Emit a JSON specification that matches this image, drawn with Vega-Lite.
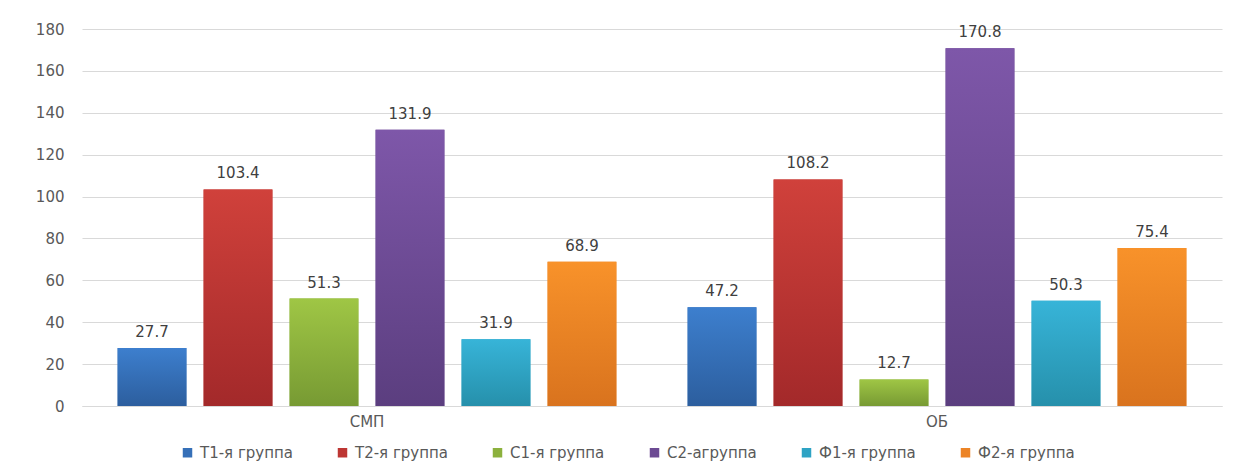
{
  "$schema": "https://vega.github.io/schema/vega-lite/v6.json",
  "autosize": {"type": "none"},
  "width": 1140,
  "height": 377,
  "padding": {"left": 82, "top": 29, "right": 13, "bottom": 62},
  "background": "#ffffff",
  "data": {
    "values": [
      {"cat": "СМП", "group": "Т1-я группа", "value": 27.7},
      {"cat": "СМП", "group": "Т2-я группа", "value": 103.4},
      {"cat": "СМП", "group": "С1-я группа", "value": 51.3},
      {"cat": "СМП", "group": "С2-агруппа", "value": 131.9},
      {"cat": "СМП", "group": "Ф1-я группа", "value": 31.9},
      {"cat": "СМП", "group": "Ф2-я группа", "value": 68.9},
      {"cat": "ОБ", "group": "Т1-я группа", "value": 47.2},
      {"cat": "ОБ", "group": "Т2-я группа", "value": 108.2},
      {"cat": "ОБ", "group": "С1-я группа", "value": 12.7},
      {"cat": "ОБ", "group": "С2-агруппа", "value": 170.8},
      {"cat": "ОБ", "group": "Ф1-я группа", "value": 50.3},
      {"cat": "ОБ", "group": "Ф2-я группа", "value": 75.4}
    ]
  },
  "encoding": {
    "x": {
      "field": "cat",
      "type": "nominal",
      "sort": ["СМП", "ОБ"],
      "title": null,
      "scale": {"paddingInner": 0.125, "paddingOuter": 0.0625},
      "axis": {
        "labelAngle": 0,
        "ticks": false,
        "domain": true,
        "domainColor": "#d9d9d9",
        "labelFont": "DejaVu Sans",
        "labelFontSize": 15,
        "labelColor": "#595959",
        "labelPadding": 8
      }
    },
    "xOffset": {
      "field": "group",
      "type": "nominal",
      "sort": ["Т1-я группа", "Т2-я группа", "С1-я группа", "С2-агруппа", "Ф1-я группа", "Ф2-я группа"],
      "scale": {"paddingInner": 0.2, "paddingOuter": 0}
    },
    "y": {
      "field": "value",
      "type": "quantitative",
      "title": null,
      "scale": {"domain": [0, 180], "nice": false},
      "axis": {
        "values": [0, 20, 40, 60, 80, 100, 120, 140, 160, 180],
        "ticks": false,
        "domain": false,
        "gridColor": "#d9d9d9",
        "labelFont": "DejaVu Sans",
        "labelFontSize": 15,
        "labelColor": "#595959",
        "labelPadding": 18
      }
    }
  },
  "layer": [
    {
      "mark": {"type": "bar"},
      "encoding": {
        "color": {
          "field": "group",
          "type": "nominal",
          "sort": ["Т1-я группа", "Т2-я группа", "С1-я группа", "С2-агруппа", "Ф1-я группа", "Ф2-я группа"],
          "scale": {
            "domain": ["Т1-я группа", "Т2-я группа", "С1-я группа", "С2-агруппа", "Ф1-я группа", "Ф2-я группа"],
            "range": ["#3670b8", "#bd3633", "#8cb13d", "#6c4a93", "#2ea3c4", "#ec8426"]
          },
          "legend": {
            "orient": "none",
            "legendX": 98,
            "legendY": 416,
            "direction": "horizontal",
            "title": null,
            "symbolType": "square",
            "symbolSize": 90,
            "symbolStrokeWidth": 0,
            "labelFont": "DejaVu Sans",
            "labelFontSize": 15,
            "labelColor": "#595959",
            "columnPadding": 42,
            "labelOffset": 5
          }
        }
      }
    },
    {
      "mark": {
        "type": "bar",
        "fill": {"expr": "datum.group === 'Т1-я группа' ? {gradient: 'linear', x1: 0, y1: 0, x2: 0, y2: 1, stops: [{offset: 0, color: '#3d7fce'}, {offset: 1, color: '#2c5e9e'}]} : datum.group === 'Т2-я группа' ? {gradient: 'linear', x1: 0, y1: 0, x2: 0, y2: 1, stops: [{offset: 0, color: '#d0413b'}, {offset: 1, color: '#a3292a'}]} : datum.group === 'С1-я группа' ? {gradient: 'linear', x1: 0, y1: 0, x2: 0, y2: 1, stops: [{offset: 0, color: '#9fc645'}, {offset: 1, color: '#779a33'}]} : datum.group === 'С2-агруппа' ? {gradient: 'linear', x1: 0, y1: 0, x2: 0, y2: 1, stops: [{offset: 0, color: '#7e57a9'}, {offset: 1, color: '#5b3e7f'}]} : datum.group === 'Ф1-я группа' ? {gradient: 'linear', x1: 0, y1: 0, x2: 0, y2: 1, stops: [{offset: 0, color: '#37b4d8'}, {offset: 1, color: '#2690ab'}]} : {gradient: 'linear', x1: 0, y1: 0, x2: 0, y2: 1, stops: [{offset: 0, color: '#f8922a'}, {offset: 1, color: '#d9731e'}]}"}
      },
      "encoding": {}
    },
    {
      "mark": {"type": "text", "baseline": "bottom", "dy": -8, "font": "DejaVu Sans", "fontSize": 15, "color": "#404040"},
      "encoding": {
        "text": {"field": "value", "type": "quantitative", "format": ".1f"}
      }
    }
  ],
  "config": {
    "view": {"stroke": null}
  }
}
